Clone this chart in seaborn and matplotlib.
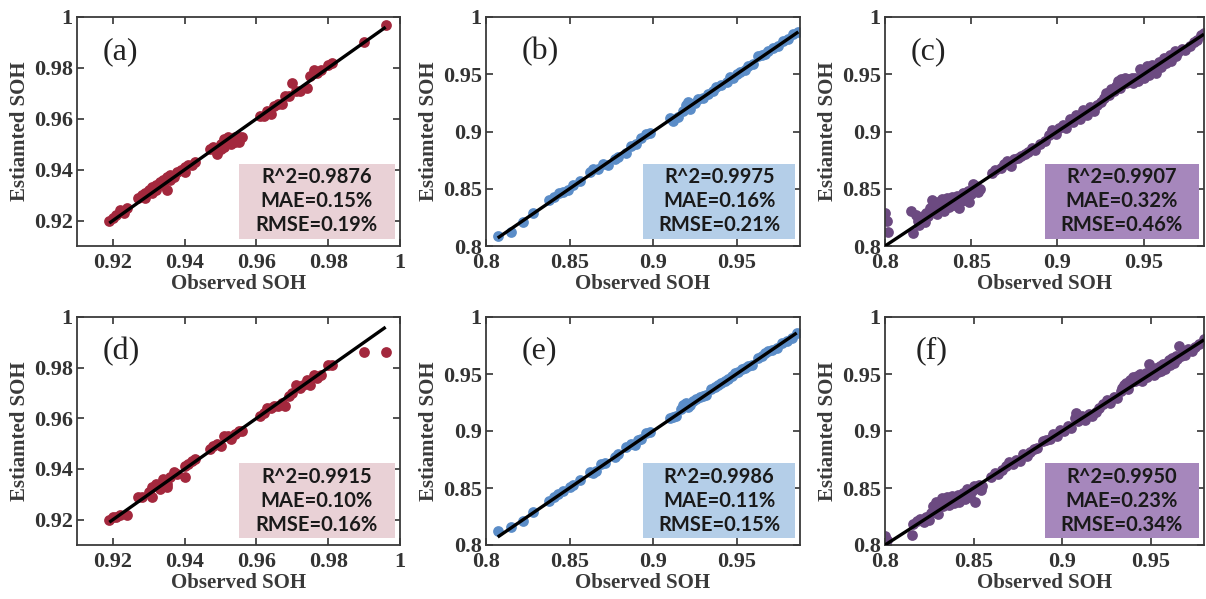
import numpy as np
import matplotlib
matplotlib.use("Agg")
import matplotlib.pyplot as plt
import matplotlib.patches as mpatches
from matplotlib.ticker import MultipleLocator, FuncFormatter
import seaborn as sns

# observed / estimated SOH pairs
pts_a = [(0.919, 0.920), (0.920, 0.921), (0.921, 0.922), (0.922, 0.924), (0.923, 0.923), (0.924, 0.925),
         (0.927, 0.929), (0.928, 0.930), (0.929, 0.931), (0.929, 0.929), (0.930, 0.932), (0.931, 0.933),
         (0.931, 0.931), (0.932, 0.934), (0.932, 0.932), (0.933, 0.935), (0.934, 0.934), (0.934, 0.936),
         (0.935, 0.932), (0.935, 0.937), (0.936, 0.936), (0.936, 0.938), (0.937, 0.937), (0.938, 0.939),
         (0.939, 0.940), (0.940, 0.941), (0.940, 0.939), (0.941, 0.942), (0.942, 0.942), (0.943, 0.943),
         (0.947, 0.948), (0.948, 0.949), (0.949, 0.947), (0.949, 0.946), (0.950, 0.950), (0.950, 0.948),
         (0.951, 0.949), (0.951, 0.952), (0.952, 0.951), (0.952, 0.953), (0.953, 0.950), (0.953, 0.952),
         (0.954, 0.951), (0.954, 0.953), (0.955, 0.951), (0.955, 0.953), (0.956, 0.953), (0.961, 0.961),
         (0.962, 0.961), (0.963, 0.963), (0.964, 0.962), (0.965, 0.965), (0.966, 0.966), (0.967, 0.966),
         (0.968, 0.969), (0.969, 0.969), (0.970, 0.974), (0.971, 0.971), (0.972, 0.971), (0.974, 0.972),
         (0.975, 0.977), (0.976, 0.979), (0.977, 0.978), (0.978, 0.979), (0.980, 0.981), (0.981, 0.982),
         (0.990, 0.990), (0.996, 0.997)]

pts_b = [(0.807, 0.809), (0.815, 0.812), (0.822, 0.821), (0.828, 0.829), (0.838, 0.840), (0.841, 0.843),
         (0.844, 0.846), (0.846, 0.847), (0.849, 0.849), (0.852, 0.853), (0.856, 0.857), (0.862, 0.865),
         (0.864, 0.867), (0.867, 0.867), (0.870, 0.872), (0.873, 0.871), (0.877, 0.876), (0.879, 0.878),
         (0.884, 0.881), (0.887, 0.887), (0.890, 0.889), (0.893, 0.894), (0.896, 0.898), (0.898, 0.899),
         (0.910, 0.912), (0.912, 0.909), (0.915, 0.913), (0.918, 0.918), (0.920, 0.923), (0.921, 0.926),
         (0.922, 0.920), (0.925, 0.925), (0.927, 0.928), (0.930, 0.929), (0.933, 0.933), (0.936, 0.935),
         (0.938, 0.939), (0.941, 0.941), (0.944, 0.943), (0.946, 0.948), (0.948, 0.947), (0.950, 0.950),
         (0.952, 0.952), (0.955, 0.954), (0.957, 0.957), (0.960, 0.959), (0.963, 0.966), (0.965, 0.967),
         (0.967, 0.968), (0.969, 0.970), (0.972, 0.973), (0.975, 0.975), (0.978, 0.979), (0.981, 0.981),
         (0.984, 0.985), (0.987, 0.987)]

pts_c = [(0.800, 0.829), (0.801, 0.822), (0.802, 0.812), (0.815, 0.831), (0.816, 0.811), (0.818, 0.827),
         (0.819, 0.822), (0.820, 0.818), (0.821, 0.824), (0.822, 0.826), (0.823, 0.821), (0.824, 0.829),
         (0.825, 0.826), (0.826, 0.833), (0.827, 0.840), (0.828, 0.831), (0.829, 0.836), (0.830, 0.828),
         (0.831, 0.838), (0.832, 0.834), (0.833, 0.841), (0.834, 0.831), (0.835, 0.838), (0.836, 0.842),
         (0.837, 0.834), (0.838, 0.840), (0.839, 0.843), (0.840, 0.836), (0.841, 0.841), (0.842, 0.844),
         (0.843, 0.833), (0.844, 0.839), (0.845, 0.846), (0.846, 0.840), (0.847, 0.843), (0.848, 0.848),
         (0.849, 0.838), (0.850, 0.845), (0.851, 0.854), (0.852, 0.849), (0.853, 0.852), (0.854, 0.847),
         (0.855, 0.850), (0.862, 0.864), (0.864, 0.866), (0.867, 0.868), (0.869, 0.872), (0.871, 0.874),
         (0.873, 0.870), (0.875, 0.876), (0.877, 0.877), (0.879, 0.879), (0.881, 0.880), (0.883, 0.882),
         (0.885, 0.886), (0.887, 0.884), (0.890, 0.889), (0.893, 0.892), (0.895, 0.897), (0.897, 0.901),
         (0.899, 0.898), (0.901, 0.903), (0.903, 0.906), (0.905, 0.903), (0.907, 0.911), (0.909, 0.908),
         (0.911, 0.914), (0.913, 0.911), (0.915, 0.919), (0.917, 0.914), (0.919, 0.921), (0.921, 0.918),
         (0.923, 0.923), (0.925, 0.926), (0.927, 0.929), (0.928, 0.934), (0.930, 0.932), (0.931, 0.937),
         (0.933, 0.935), (0.934, 0.940), (0.935, 0.944), (0.936, 0.938), (0.937, 0.946), (0.938, 0.942),
         (0.939, 0.947), (0.940, 0.942), (0.941, 0.946), (0.942, 0.944), (0.943, 0.947), (0.944, 0.942),
         (0.945, 0.947), (0.946, 0.946), (0.947, 0.944), (0.948, 0.955), (0.949, 0.950), (0.950, 0.947),
         (0.951, 0.953), (0.952, 0.957), (0.953, 0.949), (0.954, 0.952), (0.955, 0.958), (0.956, 0.955),
         (0.957, 0.951), (0.958, 0.957), (0.959, 0.961), (0.960, 0.956), (0.961, 0.959), (0.962, 0.964),
         (0.963, 0.960), (0.964, 0.963), (0.965, 0.967), (0.966, 0.962), (0.967, 0.966), (0.968, 0.970),
         (0.969, 0.966), (0.970, 0.969), (0.972, 0.972), (0.974, 0.971), (0.977, 0.975), (0.979, 0.978),
         (0.981, 0.980), (0.983, 0.984), (0.985, 0.986)]

pts_d = [(0.919, 0.920), (0.920, 0.921), (0.921, 0.921), (0.922, 0.922), (0.924, 0.922), (0.927, 0.929),
         (0.928, 0.929), (0.930, 0.931), (0.931, 0.933), (0.931, 0.929), (0.932, 0.934), (0.933, 0.932),
         (0.934, 0.936), (0.935, 0.934), (0.935, 0.933), (0.936, 0.937), (0.937, 0.939), (0.938, 0.938),
         (0.940, 0.941), (0.940, 0.937), (0.941, 0.942), (0.942, 0.943), (0.943, 0.944), (0.947, 0.948),
         (0.948, 0.949), (0.949, 0.950), (0.950, 0.949), (0.951, 0.953), (0.952, 0.953), (0.953, 0.952),
         (0.954, 0.954), (0.955, 0.955), (0.956, 0.955), (0.961, 0.961), (0.962, 0.962), (0.963, 0.964),
         (0.964, 0.964), (0.965, 0.965), (0.966, 0.965), (0.967, 0.966), (0.968, 0.965), (0.969, 0.969),
         (0.970, 0.970), (0.971, 0.973), (0.972, 0.972), (0.973, 0.973), (0.974, 0.975), (0.975, 0.973),
         (0.976, 0.977), (0.977, 0.976), (0.978, 0.977), (0.980, 0.981), (0.981, 0.981), (0.990, 0.986),
         (0.996, 0.986)]

pts_e = [(0.807, 0.812), (0.815, 0.816), (0.822, 0.821), (0.828, 0.829), (0.838, 0.839), (0.841, 0.842),
         (0.843, 0.845), (0.846, 0.847), (0.850, 0.851), (0.852, 0.853), (0.856, 0.857), (0.862, 0.864),
         (0.864, 0.863), (0.866, 0.865), (0.869, 0.871), (0.871, 0.872), (0.877, 0.877), (0.879, 0.880),
         (0.884, 0.886), (0.887, 0.889), (0.889, 0.888), (0.891, 0.892), (0.893, 0.893), (0.896, 0.898),
         (0.898, 0.899), (0.910, 0.911), (0.912, 0.912), (0.914, 0.913), (0.917, 0.919), (0.918, 0.923),
         (0.919, 0.924), (0.920, 0.925), (0.921, 0.921), (0.922, 0.923), (0.924, 0.926), (0.926, 0.928),
         (0.928, 0.930), (0.930, 0.931), (0.932, 0.932), (0.935, 0.937), (0.937, 0.939), (0.939, 0.940),
         (0.941, 0.942), (0.943, 0.944), (0.945, 0.946), (0.947, 0.948), (0.949, 0.951), (0.951, 0.952),
         (0.953, 0.954), (0.955, 0.955), (0.957, 0.957), (0.959, 0.958), (0.963, 0.964), (0.965, 0.966),
         (0.967, 0.968), (0.969, 0.970), (0.971, 0.971), (0.974, 0.973), (0.977, 0.977), (0.980, 0.979),
         (0.983, 0.982), (0.986, 0.986)]

pts_f = [(0.800, 0.808), (0.801, 0.804), (0.815, 0.809), (0.816, 0.818), (0.818, 0.821), (0.820, 0.823),
         (0.822, 0.820), (0.823, 0.825), (0.825, 0.822), (0.826, 0.828), (0.827, 0.834), (0.828, 0.831),
         (0.829, 0.838), (0.830, 0.827), (0.831, 0.836), (0.832, 0.841), (0.833, 0.834), (0.834, 0.839),
         (0.835, 0.842), (0.836, 0.835), (0.837, 0.840), (0.838, 0.843), (0.839, 0.837), (0.840, 0.841),
         (0.841, 0.844), (0.842, 0.838), (0.843, 0.842), (0.844, 0.846), (0.845, 0.840), (0.846, 0.849),
         (0.847, 0.845), (0.848, 0.842), (0.849, 0.847), (0.850, 0.852), (0.851, 0.838), (0.852, 0.850),
         (0.853, 0.853), (0.854, 0.848), (0.855, 0.852), (0.860, 0.860), (0.862, 0.863), (0.864, 0.862),
         (0.866, 0.866), (0.868, 0.869), (0.870, 0.873), (0.872, 0.871), (0.874, 0.875), (0.876, 0.874),
         (0.878, 0.880), (0.880, 0.878), (0.882, 0.882), (0.884, 0.884), (0.886, 0.885), (0.889, 0.891),
         (0.891, 0.892), (0.893, 0.893), (0.895, 0.897), (0.897, 0.896), (0.899, 0.901), (0.901, 0.900),
         (0.903, 0.904), (0.905, 0.903), (0.907, 0.911), (0.908, 0.916), (0.909, 0.909), (0.911, 0.913),
         (0.913, 0.910), (0.915, 0.915), (0.917, 0.913), (0.919, 0.917), (0.921, 0.920), (0.923, 0.924),
         (0.925, 0.927), (0.927, 0.925), (0.929, 0.930), (0.931, 0.929), (0.933, 0.935), (0.934, 0.938),
         (0.935, 0.940), (0.936, 0.942), (0.937, 0.937), (0.938, 0.945), (0.939, 0.943), (0.940, 0.947),
         (0.941, 0.944), (0.942, 0.948), (0.943, 0.946), (0.944, 0.950), (0.945, 0.944), (0.946, 0.949),
         (0.947, 0.951), (0.948, 0.947), (0.949, 0.959), (0.950, 0.950), (0.951, 0.953), (0.952, 0.949),
         (0.953, 0.955), (0.954, 0.952), (0.955, 0.957), (0.956, 0.953), (0.957, 0.959), (0.958, 0.954),
         (0.959, 0.960), (0.960, 0.962), (0.961, 0.958), (0.962, 0.964), (0.963, 0.960), (0.964, 0.966),
         (0.965, 0.963), (0.966, 0.975), (0.967, 0.966), (0.968, 0.970), (0.969, 0.967), (0.971, 0.972),
         (0.973, 0.970), (0.975, 0.974), (0.977, 0.976), (0.980, 0.981)]

panel_labels = ["(a)", "(b)", "(c)", "(d)", "(e)", "(f)"]
r2 = ["0.9876", "0.9975", "0.9907", "0.9915", "0.9986", "0.9950"]
mae = ["0.15%", "0.16%", "0.32%", "0.10%", "0.11%", "0.23%"]
rmse = ["0.19%", "0.21%", "0.46%", "0.16%", "0.15%", "0.34%"]

dot_colors = ["#A3283D", "#5B8DC8", "#6C4A81"]
box_colors = ["#E9D1D6", "#B4CEE8", "#A687BC"]

sns.set_style("ticks")
plt.rcParams["font.family"] = ["Liberation Serif", "DejaVu Serif"]
plt.rcParams["font.weight"] = "bold"
plt.rcParams["axes.labelweight"] = "bold"

fig = plt.figure(figsize=(12.06, 5.99), dpi=100)
W, H = 1206, 599
col_left = [77, 486, 885]
col_width = [323, 314, 319]
row_top = [17, 317]
row_bottom = [246, 545]
label_x = [0.08, 0.115, 0.08, 0.08, 0.115, 0.095]

all_pts = [pts_a, pts_b, pts_c, pts_d, pts_e, pts_f]
limits = [((0.91, 1.0), (0.91, 1.0)), ((0.8, 0.988), (0.8, 1.0)), ((0.8, 0.985), (0.8, 1.0)),
          ((0.91, 1.0), (0.91, 1.0)), ((0.8, 0.988), (0.8, 1.0)), ((0.8, 0.98), (0.8, 1.0))]

fmt = FuncFormatter(lambda v, p: "%g" % round(v, 4))

for i, pts in enumerate(all_pts):
    r, c = divmod(i, 3)
    ax = fig.add_axes([col_left[c] / W, 1 - row_bottom[r] / H,
                       col_width[c] / W, (row_bottom[r] - row_top[r]) / H])
    obs = np.array([p[0] for p in pts])
    est = np.array([p[1] for p in pts])
    sns.scatterplot(x=obs, y=est, ax=ax, color=dot_colors[c], s=60, linewidth=0, zorder=2)
    ax.plot([obs.min(), obs.max()], [obs.min(), obs.max()], color="black", lw=2.4, zorder=3,
            solid_capstyle="butt")

    (x0, x1), (y0, y1) = limits[i]
    ax.set_xlim(x0, x1)
    ax.set_ylim(y0, y1)
    step = 0.02 if c == 0 else 0.05
    ax.xaxis.set_major_locator(MultipleLocator(step))
    ax.yaxis.set_major_locator(MultipleLocator(step))
    ax.xaxis.set_major_formatter(fmt)
    ax.yaxis.set_major_formatter(fmt)
    ax.tick_params(direction="in", top=True, right=True, length=5, width=1.2,
                   color="#333333", labelsize=16, labelcolor="#333333",
                   labelfontfamily="Liberation Serif")
    ax.tick_params(axis="x", pad=5)
    ax.tick_params(axis="y", pad=3)
    for sp in ax.spines.values():
        sp.set_color("#3a3a3a")
        sp.set_linewidth(1.3)
    ax.set_xlabel("Observed SOH", fontsize=15, fontweight="bold", color="#3a3a3a", labelpad=1)
    ax.set_ylabel("Estiamted SOH", fontsize=15, fontweight="bold", color="#3a3a3a", labelpad=3)

    ax.text(label_x[i], 0.85, panel_labels[i], transform=ax.transAxes, fontsize=23,
            fontweight="normal", va="center", ha="left", color="#222222")

    # metrics box with a soft drop shadow
    bx, by, bw, bh = 0.5, 0.03, 0.485, 0.33
    rect = mpatches.Rectangle((bx, by), bw, bh, transform=ax.transAxes,
                              facecolor=box_colors[c], edgecolor="none", zorder=5)
    for k, a in zip([6, 5, 4, 3, 2], [0.07, 0.09, 0.12, 0.15, 0.2]):
        sh = mpatches.Shadow(rect, -k, -k, facecolor="#444444", alpha=a, edgecolor="none")
        sh.set_zorder(4)
        ax.add_patch(sh)
    ax.add_patch(rect)
    ax.text(bx + bw / 2, by + bh / 2,
            "R^2=%s\nMAE=%s\nRMSE=%s" % (r2[i], mae[i], rmse[i]),
            transform=ax.transAxes, ha="center", va="center", fontsize=14.5,
            fontweight="bold", family=["Lato", "DejaVu Sans"], color="#1a1a1a",
            linespacing=1.25, zorder=6)

fig.savefig("out.png", dpi=100)
